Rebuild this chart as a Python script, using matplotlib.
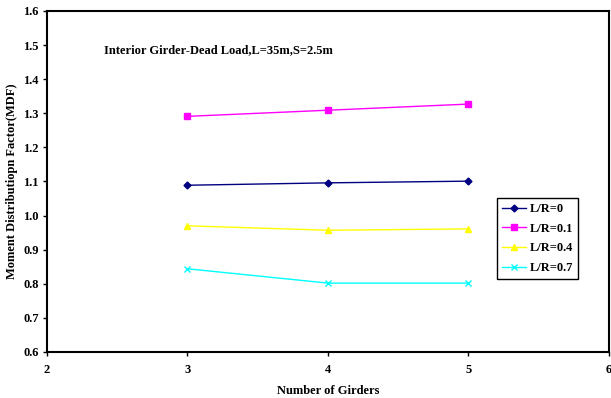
import matplotlib
matplotlib.use("Agg")
import matplotlib.pyplot as plt

plt.rcParams["font.family"] = "serif"
plt.rcParams["font.serif"] = ["Liberation Serif", "DejaVu Serif"]
plt.rcParams["font.weight"] = "bold"
plt.rcParams["font.size"] = 9

# Data
girders = [3, 4, 5]
mdf_lr0 = [1.089, 1.096, 1.101]
mdf_lr01 = [1.291, 1.309, 1.327]
mdf_lr04 = [0.970, 0.957, 0.961]
mdf_lr07 = [0.844, 0.802, 0.802]

fig = plt.figure(figsize=(6.11, 3.98), dpi=100)
ax = fig.add_axes([0.0769, 0.1156, 0.9198, 0.8568])

ax.plot(girders, mdf_lr0, color="#000080", marker="D", markersize=3.5, lw=1, label="L/R=0")
ax.plot(girders, mdf_lr01, color="#FF00FF", marker="s", markersize=4.5, lw=1, label="L/R=0.1")
ax.plot(girders, mdf_lr04, color="#FFFF00", marker="^", markersize=5, lw=1, label="L/R=0.4")
ax.plot(girders, mdf_lr07, color="#00FFFF", marker="x", markersize=4.5, lw=1, label="L/R=0.7")

ax.set_xlim(2, 6)
ax.set_ylim(0.6, 1.6)
ax.set_xticks([2, 3, 4, 5, 6])
ax.set_yticks([0.6 + 0.1 * i for i in range(11)])
ax.yaxis.set_major_formatter(matplotlib.ticker.FormatStrFormatter("%.1f"))
ax.tick_params(direction="out", length=3, width=1, pad=6)
ax.tick_params(axis="y", pad=3)
for s in ax.spines.values():
    s.set_linewidth(1.5)

ax.set_xlabel("Number of Girders", fontweight="bold", labelpad=6)
ax.set_ylabel("Moment Distributiopn Factor(MDF)", fontweight="bold", labelpad=4)

ax.text(0.102, 0.885, "Interior Girder-Dead Load,L=35m,S=2.5m", transform=ax.transAxes,
        fontsize=9, fontweight="bold", va="center")

leg = ax.legend(loc="upper left", bbox_to_anchor=(0.801, 0.4516), borderaxespad=0,
                frameon=True, fancybox=False, edgecolor="black", framealpha=1,
                borderpad=0.4, labelspacing=0.62, handlelength=1.9, handletextpad=0.3,
                fontsize=9)
leg.get_frame().set_linewidth(1)

fig.savefig("out.png", dpi=100)
